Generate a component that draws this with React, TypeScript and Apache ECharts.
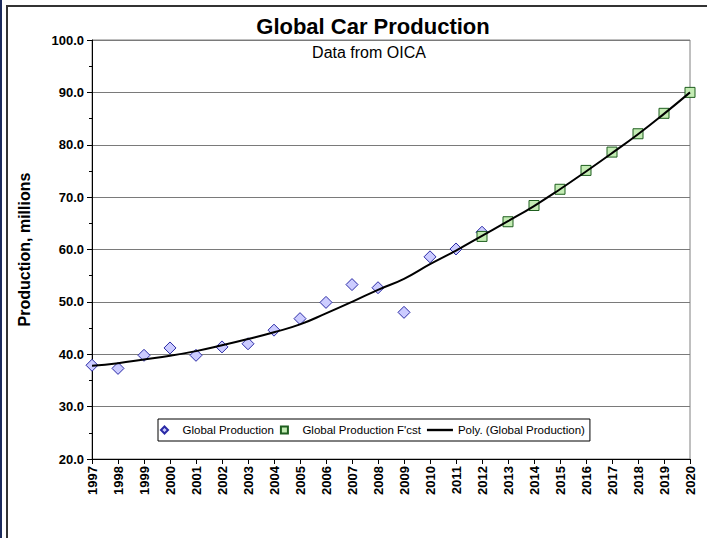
import React, { useEffect, useRef } from "react";
import * as echarts from "echarts";

// Years on the category axis
const years: string[] = [
  "1997", "1998", "1999", "2000", "2001", "2002", "2003", "2004",
  "2005", "2006", "2007", "2008", "2009", "2010", "2011", "2012",
  "2013", "2014", "2015", "2016", "2017", "2018", "2019", "2020",
];

// Reported global car production, millions
const globalProduction: (number | null)[] = [
  37.9, 37.3, 39.8, 41.2, 39.8, 41.4, 42.0, 44.6,
  46.8, 49.9, 53.3, 52.7, 48.0, 58.6, 60.1, 63.3,
  null, null, null, null, null, null, null, null,
];

// Forecast production, millions
const forecastProduction: (number | null)[] = [
  null, null, null, null, null, null, null, null,
  null, null, null, null, null, null, null, 62.5,
  65.3, 68.4, 71.5, 75.1, 78.6, 82.1, 86.0, 90.0,
];

// Polynomial trend of reported production, extended to 2020
const polyTrend: number[] = [
  37.8, 38.3, 39.0, 39.7, 40.6, 41.7, 42.9, 44.2,
  45.7, 47.8, 50.0, 52.3, 54.4, 57.2, 59.8, 62.6,
  65.4, 68.3, 71.5, 74.9, 78.4, 82.0, 85.9, 90.0,
];

const yTicks = { min: 20, max: 100, interval: 10 };

const FONT = "'Liberation Sans', Arial, Helvetica, sans-serif";

// Legend glyphs: small marker shapes and a short rule for the trend line
const ICON_DIAMOND = "path://M4,0L8,4L4,8L0,4Z";
const ICON_SQUARE = "path://M0,0H8V8H0Z";
const ICON_LINE = "path://M0,0H26V2.4H0Z";

export default function App() {
  const ref = useRef<HTMLDivElement>(null);

  useEffect(() => {
    if (!ref.current) return;
    const chart = echarts.init(ref.current, undefined, { renderer: "svg" });

    const toSeries = (arr: (number | null)[]) => arr.map((v) => (v == null ? "-" : v));

    chart.setOption({
      animation: false,
      backgroundColor: "#ffffff",
      textStyle: { fontFamily: FONT },
      graphic: [
        // window edge stripe
        { type: "rect", left: 0, top: 0, shape: { width: 2, height: 538 }, style: { fill: "#1c2b5c" }, z: 10 },
        // chart area frame
        {
          type: "rect",
          x: 7,
          y: 6,
          shape: { width: 760, height: 600 },
          style: { fill: "none", stroke: "#333333", lineWidth: 2 },
          z: 10,
        },
        {
          type: "text",
          x: 373,
          y: 26,
          style: {
            text: "Global Car Production",
            font: `bold 22px ${FONT}`,
            fill: "#000000",
            align: "center",
            verticalAlign: "middle",
          },
          z: 10,
        },
        {
          type: "text",
          x: 369,
          y: 52,
          style: {
            text: "Data from OICA",
            font: `16px ${FONT}`,
            fill: "#000000",
            align: "center",
            verticalAlign: "middle",
          },
          z: 10,
        },
      ],
      legend: {
        left: 158,
        top: 419,
        orient: "horizontal",
        backgroundColor: "#ffffff",
        borderColor: "#000000",
        borderWidth: 1,
        padding: [5, 5, 5, 2],
        itemWidth: 26,
        itemHeight: 7,
        itemGap: 6,
        symbolKeepAspect: true,
        textStyle: { fontSize: 11.5, fontFamily: FONT, color: "#000000" },
        data: [
          { name: "Global Production", icon: ICON_DIAMOND },
          { name: "Global Production F'cst", icon: ICON_SQUARE },
          { name: "Poly. (Global Production)", icon: ICON_LINE },
        ],
      },
      grid: {
        left: 92,
        right: 17,
        top: 40,
        bottom: 79,
        show: true,
        borderColor: "#808080",
        borderWidth: 1,
        backgroundColor: "#ffffff",
      },
      xAxis: {
        type: "category",
        data: years,
        boundaryGap: false,
        axisLine: { lineStyle: { color: "#000000", width: 1 } },
        axisTick: { show: true, alignWithLabel: true, length: 5, lineStyle: { color: "#000000" } },
        axisLabel: {
          rotate: 90,
          fontSize: 13,
          fontWeight: "bold",
          fontFamily: FONT,
          color: "#000000",
          margin: 7,
          interval: 0,
        },
        splitLine: { show: false },
      },
      yAxis: {
        type: "value",
        min: yTicks.min,
        max: yTicks.max,
        interval: yTicks.interval,
        name: "Production, millions",
        nameLocation: "middle",
        nameGap: 60,
        nameRotate: 90,
        nameTextStyle: { fontSize: 16, fontWeight: "bold", fontFamily: FONT, color: "#000000" },
        axisLine: { show: true, lineStyle: { color: "#000000", width: 1 } },
        axisTick: { show: true, length: 5, lineStyle: { color: "#000000" } },
        minorTick: { show: true, splitNumber: 2, length: 3, lineStyle: { color: "#000000" } },
        axisLabel: {
          fontSize: 13,
          fontWeight: "bold",
          fontFamily: FONT,
          color: "#000000",
          margin: 8,
          formatter: (v: number) => v.toFixed(1),
        },
        splitLine: { show: true, lineStyle: { color: "#7a7a7a", width: 1 } },
      },
      series: [
        {
          name: "Global Production",
          type: "scatter",
          symbol: "diamond",
          symbolSize: 12,
          data: toSeries(globalProduction),
          itemStyle: { color: "#ccccff", borderColor: "#2a2aa6", borderWidth: 1, opacity: 1 },
          z: 3,
        },
        {
          name: "Global Production F'cst",
          type: "scatter",
          symbol: "rect",
          symbolSize: 10,
          data: toSeries(forecastProduction),
          itemStyle: { color: "#c4ecb4", borderColor: "#1f5f1f", borderWidth: 1, opacity: 1 },
          z: 4,
        },
        {
          name: "Poly. (Global Production)",
          type: "line",
          data: polyTrend,
          smooth: true,
          symbol: "none",
          showSymbol: false,
          lineStyle: { color: "#000000", width: 2 },
          itemStyle: { color: "#000000" },
          z: 5,
        },
      ],
    });

    return () => chart.dispose();
  }, []);

  return (
    <div
      ref={ref}
      style={{ position: "fixed", left: 0, top: 0, width: 707, height: 538, background: "#ffffff" }}
    />
  );
}
